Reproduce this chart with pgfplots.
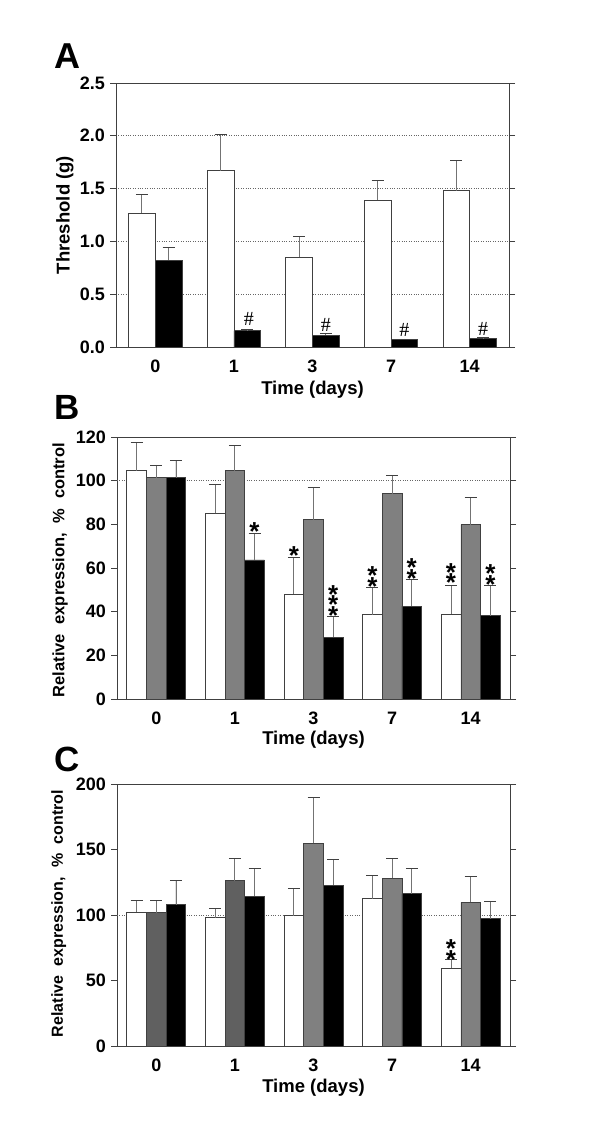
\documentclass[border=0pt]{standalone}
\usepackage{fontspec}
\setmainfont{Liberation Sans}
\newfontfamily\hashfont{Liberation Serif}
\usepackage{pgfplots}
\pgfplotsset{compat=1.18}
\usepackage{pgfplotstable}

\definecolor{midgray}{HTML}{808080}
\definecolor{dkgray}{HTML}{606060}
\definecolor{edge}{HTML}{404040}

\newcommand\starfont{\fontsize{26}{10.5}\selectfont\bfseries\lineskiplimit=-100pt\relax}

% threshold (g), upper SEM
\pgfplotstableread{
x  w     we    k      ke
0  1.27  0.17  0.82   0.125
1  1.67  0.34  0.155  0.010
2  0.85  0.195 0.11   0.018
3  1.39  0.19  0.073  0.003
4  1.48  0.29  0.082  0.007
}\dataA

\pgfplotstableread{
x  w     we    g      ge    k     ke
0  104.6 12.8  101.4  5.8   101.3 7.9
1  85.0  13.2  104.6  11.4  63.7  12.1
2  48.0  16.7  82.2   14.6  28.3  9.5
3  38.7  12.5  94.1   8.2   42.5  12.3
4  39.0  12.8  79.9   12.2  38.1  14.1
}\dataB

\pgfplotstableread{
x  w     we    g      ge    k     ke
0  102.4 8.7   101.9  8.9   108.0 18.1
1  98.1  6.9   126.1  16.8  114.4 21.1
2  99.6  20.7  154.6  35.0  122.8 19.6
3  112.6 17.6  127.9  15.5  116.2 19.3
4  59.4  6.6   109.6  19.6  97.1  13.0
}\dataC

\pgfplotsset{
  panel/.style={
    scale only axis, width=393pt, height=262pt, anchor=south west,
    ybar, ymin=0, xmin=-0.5, xmax=4.5,
    xtick={0,1,2,3,4}, xticklabels={0,1,3,7,14},
    axis line style={draw=edge, line width=0.8pt},
    xtick style={draw=none},
    ytick style={draw=edge, line width=0.8pt},
    tick align=outside, major tick length=6pt,
    /pgf/number format/assume math mode=true,
    ticklabel style={font=\fontsize{18}{20}\selectfont\bfseries},
    xticklabel style={anchor=center, yshift=-13pt},
    yticklabel style={anchor=east, inner sep=0pt, xshift=-5pt},
    grid style={dotted, draw=black!60, line width=0.7pt},
    every axis x label/.style={anchor=center, font=\fontsize{18.5}{20}\selectfont\bfseries},
  },
  hundred/.style={
    extra y ticks={100}, extra y tick labels={},
    extra y tick style={ymajorgrids=true, major tick length=0pt},
  },
  bars/.style={
    draw=edge, line width=0.7pt,
    error bars/y dir=plus, error bars/y explicit,
    error bars/error mark=-,
    error bars/error mark options={rotate=90, mark size=6pt, draw=edge, line width=0.9pt},
    error bars/error bar style={draw=black!55, line width=0.9pt},
  },
}
\tikzset{
  star/.style={font=\starfont, align=center, inner sep=0pt, anchor=south, yshift=-15pt},
  hash/.style={font=\fontsize{20}{20}\selectfont\hashfont, inner sep=0pt, anchor=base, yshift=-6.5pt},
}

\begin{document}
\begin{tikzpicture}
\useasboundingbox (0pt,0pt) rectangle (600pt,-1148pt);
\fill[white] (0pt,0pt) rectangle (600pt,-1148pt);

\node[font=\fontsize{36}{36}\selectfont\bfseries, anchor=base west, inner sep=0pt] at (54pt,-68pt) {A};
\node[font=\fontsize{35}{35}\selectfont\bfseries, anchor=base west, inner sep=0pt] at (54pt,-419pt) {B};
\node[font=\fontsize{35}{35}\selectfont\bfseries, anchor=base west, inner sep=0pt] at (54pt,-771pt) {C};

\coordinate (pA) at (116pt,-347pt);
\coordinate (pB) at (117pt,-699pt);
\coordinate (pC) at (117pt,-1046pt);

% ---- A
\begin{axis}[panel, at={(pA)}, height=264pt,
    bar width=0.34, ymax=2.5,
    ytick={0,0.5,1,1.5,2,2.5},
    yticklabel style={/pgf/number format/.cd, fixed, fixed zerofill, precision=1},
    ymajorgrids,
    ylabel={Threshold (g)},
    every axis y label/.style={at={(axis description cs:-0.13,0.5)}, rotate=90, anchor=center,
      font=\fontsize{18.5}{20}\selectfont\bfseries},
    xlabel={Time (days)},
    xlabel style={at={(axis description cs:0.5,-0.163)}}]
\addplot[bars, fill=white, bar shift=-0.17] table[x=x, y=w, y error=we] {\dataA};
\addplot[bars, fill=black, bar shift=0.17] table[x=x, y=k, y error=ke] {\dataA};
\node[hash] at (axis cs:1.19,0.266) {\#};
\node[hash] at (axis cs:2.17,0.212) {\#};
\node[hash] at (axis cs:3.17,0.165) {\#};
\node[hash] at (axis cs:4.17,0.174) {\#};
\end{axis}

% ---- B
\begin{axis}[panel, hundred, at={(pB)},
    bar width=0.25, ymax=120, ytick={0,20,...,120},
    ylabel={Relative\hspace{9.5pt}expression,\hspace{9.5pt}\%\hspace{9.5pt}control},
    every axis y label/.style={at={(axis description cs:-0.145,0.492)}, rotate=90, anchor=center,
      font=\fontsize{16.5}{18}\selectfont\bfseries},
    xlabel={Time (days)},
    xlabel style={at={(axis description cs:0.5,-0.156)}}]
\addplot[bars, fill=white, bar shift=-0.25] table[x=x, y=w, y error=we] {\dataB};
\addplot[bars, fill=midgray, bar shift=0] table[x=x, y=g, y error=ge] {\dataB};
\addplot[bars, fill=black, bar shift=0.25] table[x=x, y=k, y error=ke] {\dataB};
\node[star] at (axis cs:1.25,79.6) {*};
\node[star] at (axis cs:1.75,68.2) {*};
\node[star] at (axis cs:2.25,41.1) {*\\*\\*};
\node[star] at (axis cs:2.75,54.2) {*\\*};
\node[star] at (axis cs:3.25,57.9) {*\\*};
\node[star] at (axis cs:3.75,56.0) {*\\*};
\node[star] at (axis cs:4.25,55.3) {*\\*};
\end{axis}

% ---- C
\begin{axis}[panel, hundred, at={(pC)},
    bar width=0.25, ymax=200, ytick={0,50,...,200},
    ylabel={Relative\hspace{9.5pt}expression,\hspace{9.5pt}\%\hspace{9.5pt}control},
    every axis y label/.style={at={(axis description cs:-0.148,0.506)}, rotate=90, anchor=center,
      font=\fontsize{16}{17}\selectfont\bfseries},
    xlabel={Time (days)},
    xlabel style={at={(axis description cs:0.5,-0.16)}}]
\addplot[bars, fill=white, bar shift=-0.25] table[x=x, y=w, y error=we] {\dataC};
\addplot[bars, fill=dkgray, bar shift=0, restrict x to domain=0:1] table[x=x, y=g, y error=ge] {\dataC};
\addplot[bars, fill=midgray, bar shift=0, restrict x to domain=2:4] table[x=x, y=g, y error=ge] {\dataC};
\addplot[bars, fill=black, bar shift=0.25] table[x=x, y=k, y error=ke] {\dataC};
\node[star] at (axis cs:3.75,70.6) {*\\*};
\end{axis}
\end{tikzpicture}
\end{document}
